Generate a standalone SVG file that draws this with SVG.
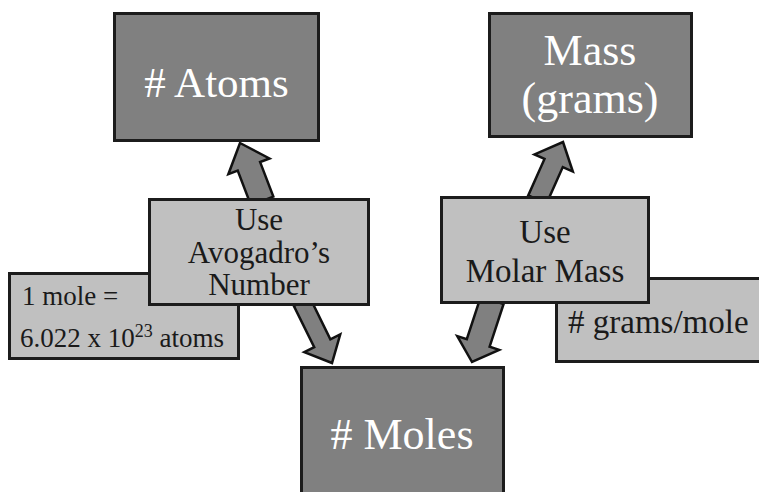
<svg xmlns="http://www.w3.org/2000/svg" width="759" height="492" viewBox="0 0 759 492">
<style>
.dark{fill:#808080;stroke:#1c1c1c;stroke-width:3}
.light{fill:#c0c0c0;stroke:#1c1c1c;stroke-width:3}
.arrow{fill:#808080;stroke:#111;stroke-width:2.5;stroke-linejoin:miter}
text{font-family:"Liberation Serif","Times New Roman",serif}
.big{fill:#fff;font-size:44px;text-anchor:middle}
.mid{fill:#1a1a1a;font-size:31px;text-anchor:middle}
.small{fill:#1a1a1a;font-size:27px}
</style>
<rect width="759" height="492" fill="#fff"/>
<g id="connectors">
  <polygon class="arrow" transform="translate(240,143) rotate(-110.9)" points="0,0 -25,22 -25,12 -62,12 -62,-12 -25,-12 -25,-22"/>
  <polygon class="arrow" transform="translate(332,363) rotate(63.8)" points="0,0 -22,20 -22,9 -68,9 -68,-9 -22,-9 -22,-20"/>
  <polygon class="arrow" transform="translate(563,142) rotate(-66)" points="0,0 -23,21 -23,10 -63,10 -63,-10 -23,-10 -23,-21"/>
  <polygon class="arrow" transform="translate(472,362) rotate(108.1)" points="0,0 -20,22 -20,12 -65,12 -65,-12 -20,-12 -20,-22"/>
</g>
<g id="atoms">
  <rect class="dark" x="114.5" y="13.5" width="204" height="127"/>
  <text class="big" x="216.5" y="97" style="font-size:43px"># Atoms</text>
</g>
<g id="mass">
  <rect class="dark" x="489.5" y="13.5" width="202" height="123"/>
  <text class="big" x="590" y="65">Mass</text>
  <text class="big" x="590" y="113">(grams)</text>
</g>
<g id="mole-def">
  <rect class="light" x="9.5" y="273.5" width="229" height="85"/>
  <text class="small" x="22" y="305">1 mole =</text>
  <text class="small" x="20" y="347">6.022 x 10<tspan dy="-10" font-size="18">23</tspan><tspan dy="10"> atoms</tspan></text>
</g>
<g id="avogadro">
  <rect class="light" x="149.5" y="199.5" width="219" height="105"/>
  <text class="mid" x="259" y="230">Use</text>
  <text class="mid" x="259" y="263">Avogadro’s</text>
  <text class="mid" x="259" y="295">Number</text>
</g>
<g id="grams-per-mole">
  <rect class="light" x="556.5" y="278.5" width="210" height="83"/>
  <text class="small" x="568" y="333" style="font-size:33px"># grams/mole</text>
</g>
<g id="molar-mass">
  <rect class="light" x="441.5" y="197.5" width="207" height="105"/>
  <text class="mid" x="545" y="243" style="font-size:33px">Use</text>
  <text class="mid" x="545" y="282" style="font-size:33px">Molar Mass</text>
</g>
<g id="moles">
  <rect class="dark" x="301.5" y="367.5" width="202" height="140"/>
  <text class="big" x="402" y="449"># Moles</text>
</g>
</svg>
